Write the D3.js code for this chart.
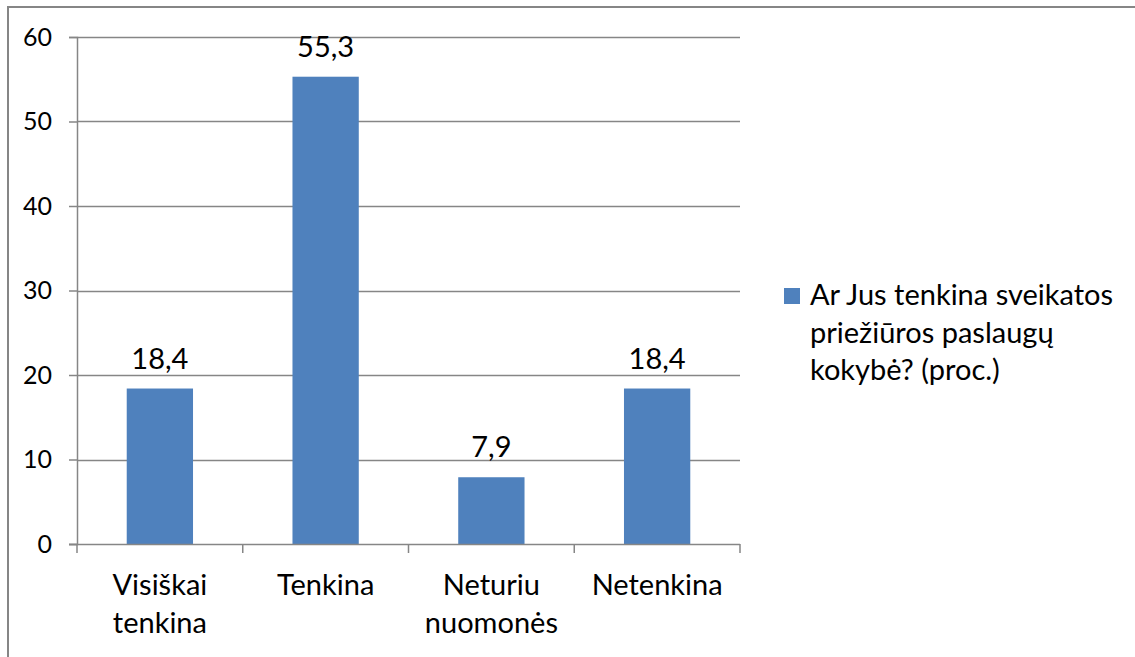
<!DOCTYPE html>
<html lang="lt">
<head>
    <meta charset="UTF-8">
    <script src="https://d3js.org/d3.v7.min.js"></script>
    <title>Ar Jus tenkina sveikatos priežiūros paslaugų kokybė?</title>
    <style>
        body {
            margin: 0;
            background-color: #ffffff;
            font-family: Lato, "Open Sans", sans-serif;
        }
        svg text {
            fill: #000;
        }
    </style>
</head>
<body>
    <svg id="chart" width="1135" height="657"></svg>

    <script>
        // chart data
        const categories = [["Visiškai", "tenkina"], ["Tenkina"], ["Neturiu", "nuomonės"], ["Netenkina"]];
        const values = [18.4, 55.3, 7.9, 18.4];
        const yTicks = [0, 10, 20, 30, 40, 50, 60];
        const seriesName = ["Ar Jus tenkina sveikatos", "priežiūros paslaugų", "kokybė? (proc.)"];

        const barColor = "#4f81bd";
        const lineColor = "#868686";
        const fontSize = 29;
        const axisFontSize = 25;

        const svg = d3.select("#chart");

        // outer frame (top + left edge visible)
        svg.append("path")
            .attr("d", "M8,1000 V7 H1200")
            .attr("fill", "none")
            .attr("stroke", lineColor)
            .attr("stroke-width", 2);

        const plot = { left: 77, right: 740, top: 37, bottom: 544 };

        const x = d3.scaleBand()
            .domain(d3.range(categories.length))
            .range([plot.left, plot.right])
            .padding(0);

        const y = d3.scaleLinear()
            .domain([0, 60])
            .range([plot.bottom, plot.top]);

        // gridlines
        svg.append("g")
            .selectAll("line")
            .data(yTicks.filter(d => d > 0))
            .join("line")
            .attr("x1", plot.left)
            .attr("x2", plot.right)
            .attr("y1", d => Math.round(y(d)) + 0.5)
            .attr("y2", d => Math.round(y(d)) + 0.5)
            .attr("stroke", lineColor)
            .attr("stroke-width", 1.5);

        // bars
        const barW = x.bandwidth() * 0.4;
        svg.append("g")
            .selectAll("rect")
            .data(values)
            .join("rect")
            .attr("x", (d, i) => x(i) + (x.bandwidth() - barW) / 2)
            .attr("y", d => y(d))
            .attr("width", barW)
            .attr("height", d => plot.bottom - y(d))
            .attr("fill", barColor);

        // value labels
        svg.append("g")
            .selectAll("text")
            .data(values)
            .join("text")
            .attr("x", (d, i) => x(i) + x.bandwidth() / 2)
            .attr("y", d => y(d) - 20)
            .attr("text-anchor", "middle")
            .style("font-size", fontSize + "px")
            .text(d => d3.format(".1f")(d).replace(".", ","));

        // y axis
        const yAxis = svg.append("g")
            .attr("transform", `translate(${plot.left},0)`)
            .call(d3.axisLeft(y).tickValues(yTicks).tickSize(8).tickPadding(17));
        yAxis.select(".domain").attr("stroke", lineColor).attr("stroke-width", 1.5);
        yAxis.selectAll(".tick line").attr("stroke", lineColor).attr("stroke-width", 1.5);
        yAxis.selectAll(".tick text")
            .style("font-size", axisFontSize + "px")
            .style("font-family", "Lato, sans-serif");

        // x axis line + ticks at category boundaries
        const xAxisG = svg.append("g");
        xAxisG.append("line")
            .attr("x1", plot.left - 8)
            .attr("x2", plot.right)
            .attr("y1", plot.bottom + 0.5)
            .attr("y2", plot.bottom + 0.5)
            .attr("stroke", lineColor)
            .attr("stroke-width", 1.5);
        xAxisG.selectAll("line.tk")
            .data(d3.range(categories.length + 1))
            .join("line")
            .attr("class", "tk")
            .attr("x1", i => i < categories.length ? x(i) : plot.right)
            .attr("x2", i => i < categories.length ? x(i) : plot.right)
            .attr("y1", plot.bottom)
            .attr("y2", plot.bottom + 9)
            .attr("stroke", lineColor)
            .attr("stroke-width", 1.5);

        // category labels
        xAxisG.selectAll("text")
            .data(categories)
            .join("text")
            .attr("text-anchor", "middle")
            .attr("transform", (d, i) => `translate(${x(i) + x.bandwidth() / 2},595)`)
            .style("font-size", fontSize + "px")
            .selectAll("tspan")
            .data(d => d)
            .join("tspan")
            .attr("x", 0)
            .attr("y", (d, i) => i * 38)
            .text(d => d);

        // legend
        const legend = svg.append("g").attr("transform", "translate(784,288)");
        legend.append("rect")
            .attr("width", 16)
            .attr("height", 16)
            .attr("fill", barColor);
        legend.append("text")
            .style("font-size", fontSize + "px")
            .selectAll("tspan")
            .data(seriesName)
            .join("tspan")
            .attr("x", 26)
            .attr("y", (d, i) => 17 + i * 37.5)
            .text(d => d);
    </script>
</body>
</html>
